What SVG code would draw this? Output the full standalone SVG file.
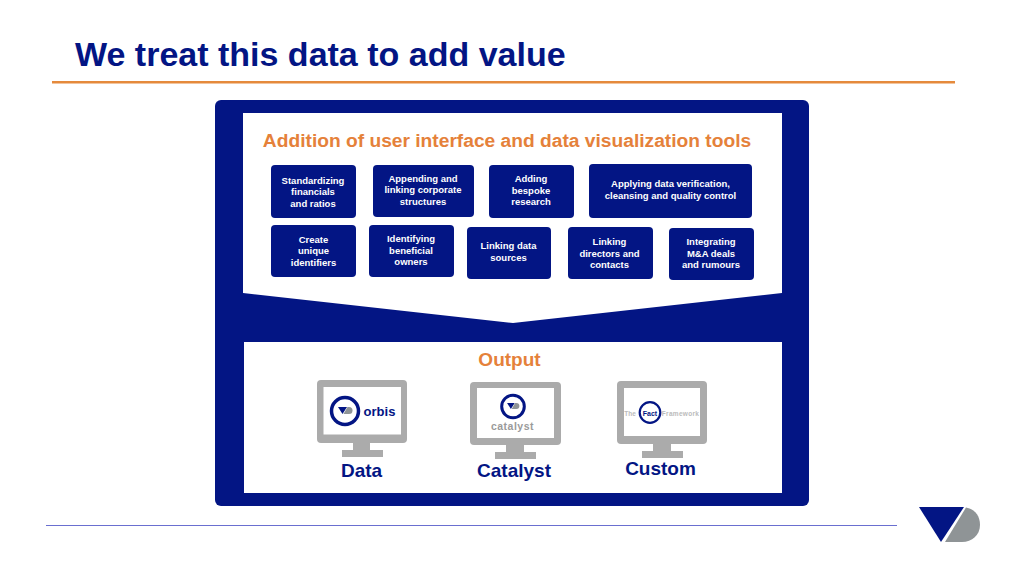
<svg xmlns="http://www.w3.org/2000/svg" width="1024" height="576" viewBox="0 0 1024 576">
<defs>
<style>
text{font-family:"Liberation Sans",Arial,sans-serif;font-weight:700}
.box{fill:#031584}
.bt{fill:#fff;font-size:9.5px;text-anchor:middle}
.mon{fill:#ababab}
.scr{fill:#fff}
.lab{fill:#031584;font-size:19px;text-anchor:middle}
.ring{fill:#fff;stroke:#031584}
</style>
<g id="mini"><path d="M-7 -4H2L-2.500 3Z" fill="#031584"/><path d="M2.500 -4H4A3.500 3.500 0 0 1 4 3H-1.500Z" fill="#8f9496"/></g>
</defs>
<rect width="1024" height="576" fill="#fff"/>
<text id="title" x="75" y="66" font-size="34" fill="#031584">We treat this data to add value</text>
<rect x="52" y="81" width="903" height="2.500" fill="#e58a3c"/>
<rect id="frame" x="215" y="100" width="594" height="406" rx="6" fill="#031584"/>
<path d="M243 113H782V293L513 323L243 293Z" fill="#fff"/>
<rect x="244" y="342" width="538" height="151" fill="#fff"/>
<text id="heading" x="507" y="147" font-size="19.200" fill="#e5813a" text-anchor="middle">Addition of user interface and data visualization tools</text>
<text id="output" x="509.500" y="366" font-size="19" fill="#e5813a" text-anchor="middle">Output</text>
<g id="connectors"></g>
<g id="n1"><rect class="box" x="271" y="165" width="85" height="53" rx="4"/><text class="bt" x="313" y="184">Standardizing</text><text class="bt" x="313" y="195">financials</text><text class="bt" x="313" y="207">and ratios</text></g>
<g id="n2"><rect class="box" x="373" y="165" width="101" height="52" rx="4"/><text class="bt" x="423" y="182">Appending and</text><text class="bt" x="423" y="193">linking corporate</text><text class="bt" x="423" y="205">structures</text></g>
<g id="n3"><rect class="box" x="489" y="165" width="85" height="53" rx="4"/><text class="bt" x="531" y="182">Adding</text><text class="bt" x="531" y="194">bespoke</text><text class="bt" x="531" y="205">research</text></g>
<g id="n4"><rect class="box" x="589" y="164" width="163" height="54" rx="4"/><text class="bt" x="670.500" y="187">Applying data verification,</text><text class="bt" x="670.500" y="199">cleansing and quality control</text></g>
<g id="n5"><rect class="box" x="271" y="225" width="85" height="52" rx="4"/><text class="bt" x="313.500" y="243">Create</text><text class="bt" x="313.500" y="254">unique</text><text class="bt" x="313.500" y="266">identifiers</text></g>
<g id="n6"><rect class="box" x="369" y="225" width="85" height="52" rx="4"/><text class="bt" x="411" y="242">Identifying</text><text class="bt" x="411" y="254">beneficial</text><text class="bt" x="411" y="265">owners</text></g>
<g id="n7"><rect class="box" x="467" y="227" width="84" height="52" rx="4"/><text class="bt" x="508.500" y="249">Linking data</text><text class="bt" x="508.500" y="261">sources</text></g>
<g id="n8"><rect class="box" x="568" y="227" width="85" height="52" rx="4"/><text class="bt" x="609.500" y="245">Linking</text><text class="bt" x="609.500" y="257">directors and</text><text class="bt" x="609.500" y="268">contacts</text></g>
<g id="n9"><rect class="box" x="669" y="228" width="85" height="52" rx="4"/><text class="bt" x="711" y="245">Integrating</text><text class="bt" x="711" y="257">M&amp;A deals</text><text class="bt" x="711" y="268">and rumours</text></g>
<g id="data">
<rect class="mon" x="317" y="380" width="90" height="63" rx="4"/><rect class="scr" x="323.500" y="387" width="77.500" height="47.500"/><rect class="mon" x="353" y="443" width="17" height="8"/><rect class="mon" x="342" y="450" width="41" height="7"/>
<circle class="ring" cx="345" cy="411" r="13.500" stroke-width="3.500"/><use href="#mini" x="345" y="411"/>
<text x="379.500" y="416" font-size="13" fill="#031584" text-anchor="middle">orbis</text>
<text class="lab" x="361.500" y="477">Data</text>
</g>
<g id="catalyst">
<rect class="mon" x="470" y="382" width="91" height="63" rx="4"/><rect class="scr" x="477" y="388" width="77" height="50"/><rect class="mon" x="506" y="445" width="18" height="8"/><rect class="mon" x="495" y="452" width="41" height="7"/>
<circle class="ring" cx="513" cy="406.500" r="11.300" stroke-width="3"/><use href="#mini" transform="translate(513 406.500) scale(.85)"/>
<text x="512.500" y="430" font-size="10.500" fill="#9a9a9a" text-anchor="middle" letter-spacing=".5">catalyst</text>
<text class="lab" x="514" y="477">Catalyst</text>
</g>
<g id="custom">
<rect class="mon" x="617" y="381" width="90" height="63" rx="4"/><rect class="scr" x="624" y="388" width="76" height="48"/><rect class="mon" x="653" y="444" width="18" height="8"/><rect class="mon" x="642" y="451" width="41" height="7"/>
<circle class="ring" cx="650" cy="412.500" r="10.300" stroke-width="2.200"/>
<text x="650" y="415.500" font-size="7" fill="#031584" text-anchor="middle">Fact</text>
<text x="630" y="415.500" font-size="6.500" fill="#bbb" text-anchor="middle">The</text>
<text x="680.500" y="415.500" font-size="6.500" fill="#bbb" text-anchor="middle" letter-spacing=".3">Framework</text>
<text class="lab" x="660.500" y="475">Custom</text>
</g>
<rect x="46" y="525" width="851" height="1" fill="#6a6fd0"/>
<g id="logo"><path d="M919 507H964L941 542Z" fill="#031584"/><path d="M966 507.500C975 509 980 516 980 525C980 535 972 542 962 542H945Z" fill="#8f9496"/></g>
</svg>
